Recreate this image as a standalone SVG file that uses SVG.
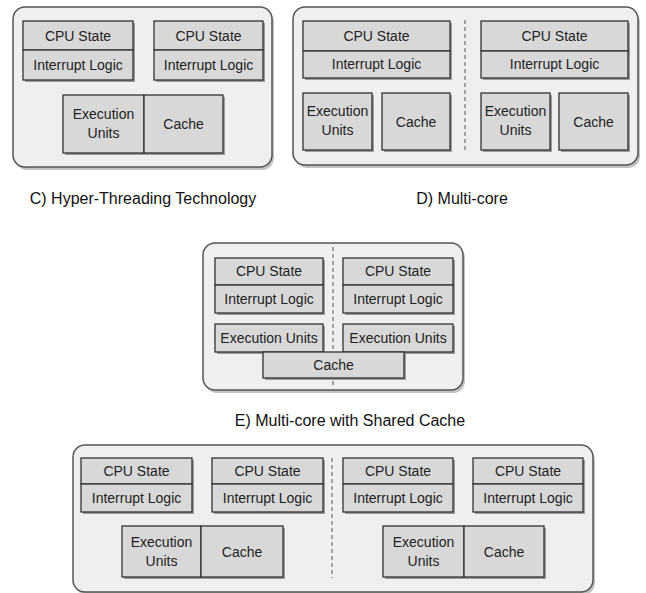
<svg xmlns="http://www.w3.org/2000/svg" width="646" height="593" viewBox="0 0 646 593">
<defs>
<style>
.panel{fill:#efefef;stroke:#555;stroke-width:1.5}
.psh{fill:#9a9a9a;opacity:0.6}
.box{fill:#d8d8d8;stroke:#333;stroke-width:1.3}
.sh{fill:#777;opacity:0.7}
.t{font-family:"Liberation Sans",Arial,sans-serif;font-size:14px;fill:#222;text-anchor:middle}
.cap{font-family:"Liberation Sans",Arial,sans-serif;font-size:16px;fill:#111;text-anchor:middle}
.dash{stroke:#777;stroke-width:1.3;stroke-dasharray:4 3;fill:none}
</style>
</defs>
<rect width="646" height="593" fill="#fff"/>

<!-- Panel C -->
<g id="panelC">
<rect class="psh" x="15" y="10" width="259" height="160" rx="12"/>
<rect class="panel" x="13" y="7" width="259" height="160" rx="12"/>
</g>
<g id="c_cpu1">
<rect class="sh" x="25" y="23" width="110" height="59"/>
<rect class="box" x="23" y="21" width="110" height="29"/>
<rect class="box" x="23" y="50" width="110" height="30"/>
<text class="t" x="78" y="41">CPU State</text>
<text class="t" x="78" y="70">Interrupt Logic</text>
</g>
<g id="c_cpu2">
<rect class="sh" x="156" y="23" width="109" height="59"/>
<rect class="box" x="154" y="21" width="109" height="29"/>
<rect class="box" x="154" y="50" width="109" height="30"/>
<text class="t" x="208.500" y="41">CPU State</text>
<text class="t" x="208.500" y="70">Interrupt Logic</text>
</g>
<g id="c_exec">
<rect class="sh" x="65" y="97" width="160" height="58"/>
<rect class="box" x="63" y="95" width="81" height="58"/>
<text class="t" x="103.500" y="119">Execution</text>
<text class="t" x="103.500" y="138">Units</text>
</g>
<g id="c_cache">
<rect class="box" x="144" y="95" width="79" height="58"/>
<text class="t" x="183.500" y="129">Cache</text>
</g>
<text class="cap" x="143" y="204">C) Hyper-Threading Technology</text>

<!-- Panel D -->
<g id="panelD">
<rect class="psh" x="295" y="10" width="345" height="158" rx="12"/>
<rect class="panel" x="293" y="7" width="345" height="158" rx="12"/>
</g>
<g id="d_cpu1">
<rect class="sh" x="305" y="23" width="147" height="57"/>
<rect class="box" x="303" y="21" width="147" height="30"/>
<rect class="box" x="303" y="51" width="147" height="27"/>
<text class="t" x="376.500" y="41">CPU State</text>
<text class="t" x="376.500" y="69">Interrupt Logic</text>
</g>
<g id="d_exec1">
<rect class="sh" x="305" y="95" width="69" height="57"/>
<rect class="box" x="303" y="93" width="69" height="57"/>
<text class="t" x="337.500" y="116">Execution</text>
<text class="t" x="337.500" y="135">Units</text>
</g>
<g id="d_cache1">
<rect class="sh" x="384" y="95" width="68" height="57"/>
<rect class="box" x="382" y="93" width="68" height="57"/>
<text class="t" x="416" y="127">Cache</text>
</g>
<g id="d_cpu2">
<rect class="sh" x="483" y="23" width="147" height="57"/>
<rect class="box" x="481" y="21" width="147" height="30"/>
<rect class="box" x="481" y="51" width="147" height="27"/>
<text class="t" x="554.500" y="41">CPU State</text>
<text class="t" x="554.500" y="69">Interrupt Logic</text>
</g>
<g id="d_exec2">
<rect class="sh" x="483" y="95" width="69" height="57"/>
<rect class="box" x="481" y="93" width="69" height="57"/>
<text class="t" x="515.500" y="116">Execution</text>
<text class="t" x="515.500" y="135">Units</text>
</g>
<g id="d_cache2">
<rect class="sh" x="561" y="95" width="69" height="57"/>
<rect class="box" x="559" y="93" width="69" height="57"/>
<text class="t" x="593.500" y="127">Cache</text>
</g>
<text class="cap" x="462" y="204">D) Multi-core</text>

<!-- Panel E -->
<g id="panelE">
<rect class="psh" x="205" y="246" width="260" height="147" rx="12"/>
<rect class="panel" x="203" y="243" width="260" height="147" rx="12"/>
</g>
<g id="e_cpu1">
<rect class="sh" x="217" y="260" width="108" height="55"/>
<rect class="box" x="215" y="258" width="108" height="27"/>
<rect class="box" x="215" y="285" width="108" height="28"/>
<text class="t" x="269" y="276">CPU State</text>
<text class="t" x="269" y="304">Interrupt Logic</text>
</g>
<g id="e_cpu2">
<rect class="sh" x="345" y="260" width="110" height="55"/>
<rect class="box" x="343" y="258" width="110" height="27"/>
<rect class="box" x="343" y="285" width="110" height="28"/>
<text class="t" x="398" y="276">CPU State</text>
<text class="t" x="398" y="304">Interrupt Logic</text>
</g>
<g id="e_exec1">
<rect class="sh" x="217" y="326" width="108" height="28"/>
<rect class="box" x="215" y="324" width="108" height="28"/>
<text class="t" x="269" y="343">Execution Units</text>
</g>
<g id="e_exec2">
<rect class="sh" x="345" y="326" width="110" height="28"/>
<rect class="box" x="343" y="324" width="110" height="28"/>
<text class="t" x="398" y="343">Execution Units</text>
</g>
<g id="e_cache">
<rect class="sh" x="265" y="354" width="141" height="26"/>
<rect class="box" x="263" y="352" width="141" height="26"/>
<text class="t" x="333.500" y="370">Cache</text>
</g>
<text class="cap" x="350" y="426">E) Multi-core with Shared Cache</text>

<!-- Bottom panel -->
<g id="panelF">
<rect class="psh" x="75" y="448" width="520" height="147" rx="12"/>
<rect class="panel" x="73" y="445" width="520" height="147" rx="12"/>
</g>
<g id="f_cpu1">
<rect class="sh" x="83" y="460" width="111" height="54"/>
<rect class="box" x="81" y="458" width="111" height="26"/>
<rect class="box" x="81" y="484" width="111" height="28"/>
<text class="t" x="136.500" y="476">CPU State</text>
<text class="t" x="136.500" y="503">Interrupt Logic</text>
</g>
<g id="f_cpu2">
<rect class="sh" x="214" y="460" width="111" height="54"/>
<rect class="box" x="212" y="458" width="111" height="26"/>
<rect class="box" x="212" y="484" width="111" height="28"/>
<text class="t" x="267.500" y="476">CPU State</text>
<text class="t" x="267.500" y="503">Interrupt Logic</text>
</g>
<g id="f_exec1">
<rect class="sh" x="124" y="528" width="161" height="51"/>
<rect class="box" x="122" y="526" width="79" height="51"/>
<text class="t" x="161.500" y="547">Execution</text>
<text class="t" x="161.500" y="566">Units</text>
</g>
<g id="f_cache1">
<rect class="box" x="201" y="526" width="82" height="51"/>
<text class="t" x="242" y="557">Cache</text>
</g>
<g id="f_cpu3">
<rect class="sh" x="345" y="460" width="110" height="54"/>
<rect class="box" x="343" y="458" width="110" height="26"/>
<rect class="box" x="343" y="484" width="110" height="28"/>
<text class="t" x="398" y="476">CPU State</text>
<text class="t" x="398" y="503">Interrupt Logic</text>
</g>
<g id="f_cpu4">
<rect class="sh" x="475" y="460" width="110" height="54"/>
<rect class="box" x="473" y="458" width="110" height="26"/>
<rect class="box" x="473" y="484" width="110" height="28"/>
<text class="t" x="528" y="476">CPU State</text>
<text class="t" x="528" y="503">Interrupt Logic</text>
</g>
<g id="f_exec2">
<rect class="sh" x="385" y="528" width="161" height="51"/>
<rect class="box" x="383" y="526" width="81" height="51"/>
<text class="t" x="423.500" y="547">Execution</text>
<text class="t" x="423.500" y="566">Units</text>
</g>
<g id="f_cache2">
<rect class="box" x="464" y="526" width="80" height="51"/>
<text class="t" x="504" y="557">Cache</text>
</g>

<!-- Connectors (dashed separators) -->
<g id="connectors">
<line class="dash" x1="465" y1="20" x2="465" y2="152"/>
<line class="dash" x1="333" y1="247" x2="333" y2="350"/>
<line class="dash" x1="333" y1="381" x2="333" y2="386"/>
<line class="dash" x1="332" y1="458" x2="332" y2="578"/>
</g>
</svg>
